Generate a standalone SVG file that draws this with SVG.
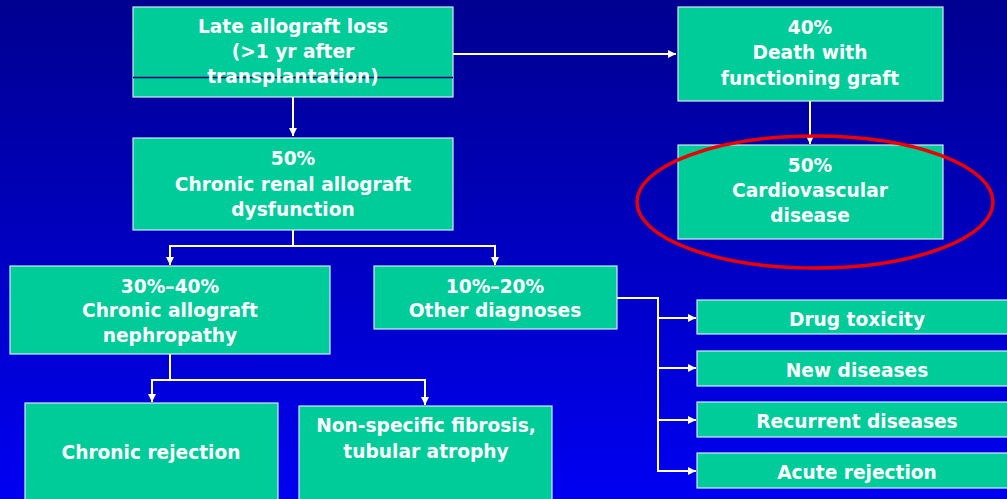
<svg xmlns="http://www.w3.org/2000/svg" width="1007" height="499" viewBox="0 0 1007 499">
<defs>
<linearGradient id="bg" x1="0" y1="0" x2="0" y2="1">
<stop offset="0" stop-color="#000090"/>
<stop offset="1" stop-color="#0000F2"/>
</linearGradient>
<marker id="ah" viewBox="0 0 10 10" refX="10" refY="5" markerWidth="8" markerHeight="8" markerUnits="userSpaceOnUse" orient="auto">
<path d="M0,0 L10,5 L0,10 z" fill="#ffffff"/>
</marker>
<style>
.box{fill:#00CC99;stroke:#d8e8f0;stroke-width:1.2}
.t{font-family:"DejaVu Sans",Verdana,sans-serif;font-weight:bold;font-size:18.6px;fill:#ffffff;text-anchor:middle}
.c{fill:none;stroke:#ffffff;stroke-width:2}
</style>
</defs>
<rect x="0" y="0" width="1007" height="499" fill="url(#bg)"/>
<g id="connectors">
<path class="c" d="M453,54 H676" marker-end="url(#ah)"/>
<path class="c" d="M810,101 V144" stroke-width="1.5" marker-end="url(#ah)"/>
<path class="c" d="M293,97 V136" marker-end="url(#ah)"/>
<path class="c" d="M293,230 V246 H170 V265" marker-end="url(#ah)"/>
<path class="c" d="M293,246 H495 V265" marker-end="url(#ah)"/>
<path class="c" d="M170,354 V380 H152 V402" marker-end="url(#ah)"/>
<path class="c" d="M170,380 H425 V405" marker-end="url(#ah)"/>
<path class="c" d="M617,298 H658 V318 H696" marker-end="url(#ah)"/>
<path class="c" d="M658,318 V368 H696" marker-end="url(#ah)"/>
<path class="c" d="M658,368 V420 H696" marker-end="url(#ah)"/>
<path class="c" d="M658,420 V471 H696" marker-end="url(#ah)"/>
</g>
<g id="late-loss">
<rect class="box" x="133" y="7" width="320" height="90"/>
<line x1="133" y1="77.5" x2="453" y2="77.5" stroke="#000070" stroke-width="1.3"/>
<text class="t" x="293" y="33">Late allograft loss</text>
<text class="t" x="293" y="58">(&gt;1 yr after</text>
<text class="t" x="293" y="83">transplantation)</text>
</g>
<g id="death">
<rect class="box" x="678" y="7" width="265" height="94"/>
<text class="t" x="810" y="34">40%</text>
<text class="t" x="810" y="59">Death with</text>
<text class="t" x="810" y="85">functioning graft</text>
</g>
<g id="cardio">
<rect class="box" x="678" y="145" width="265" height="94"/>
<text class="t" x="810" y="172">50%</text>
<text class="t" x="810" y="197">Cardiovascular</text>
<text class="t" x="810" y="222">disease</text>
</g>
<ellipse id="highlight" cx="815" cy="202" rx="178" ry="66" fill="none" stroke="#ee0000" stroke-width="3.5"/>
<g id="chronic-renal">
<rect class="box" x="133" y="138" width="320" height="92"/>
<text class="t" x="293" y="165">50%</text>
<text class="t" x="293" y="191">Chronic renal allograft</text>
<text class="t" x="293" y="216">dysfunction</text>
</g>
<g id="can">
<rect class="box" x="10" y="266" width="320" height="88"/>
<text class="t" x="170" y="293">30%–40%</text>
<text class="t" x="170" y="317">Chronic allograft</text>
<text class="t" x="170" y="342">nephropathy</text>
</g>
<g id="other">
<rect class="box" x="374" y="266" width="243" height="63"/>
<text class="t" x="495" y="293">10%–20%</text>
<text class="t" x="495" y="317">Other diagnoses</text>
</g>
<g id="drug">
<rect class="box" x="697" y="300" width="320" height="34"/>
<text class="t" x="857" y="326">Drug toxicity</text>
</g>
<g id="new">
<rect class="box" x="697" y="351" width="320" height="35"/>
<text class="t" x="857" y="377">New diseases</text>
</g>
<g id="recurrent">
<rect class="box" x="697" y="402" width="320" height="35"/>
<text class="t" x="857" y="428">Recurrent diseases</text>
</g>
<g id="acute">
<rect class="box" x="697" y="453" width="320" height="35"/>
<text class="t" x="857" y="479">Acute rejection</text>
</g>
<g id="chronic-rejection">
<rect class="box" x="25" y="403" width="253" height="110"/>
<text class="t" x="151" y="459">Chronic rejection</text>
</g>
<g id="fibrosis">
<rect class="box" x="299" y="406" width="253" height="110"/>
<text class="t" x="426" y="432">Non-specific fibrosis,</text>
<text class="t" x="426" y="458">tubular atrophy</text>
</g>
</svg>
